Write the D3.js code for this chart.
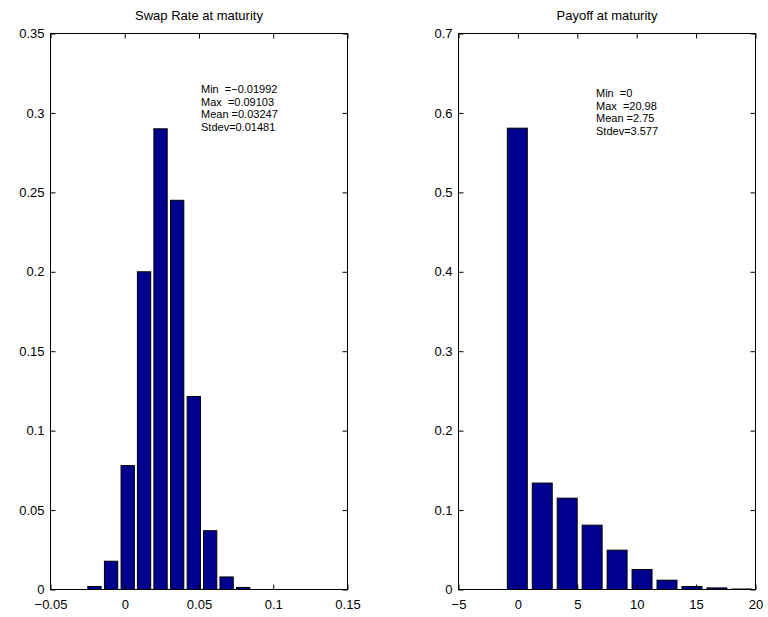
<!DOCTYPE html>
<html>
<head>
<meta charset="utf-8">
<title>Swap rate and payoff histograms</title>
<style>
  body { margin: 0; background: #fff; }
  svg text { font-family: "Liberation Sans", Arial, Helvetica, sans-serif; fill: #000; }
</style>
</head>
<body>
<div id="container"></div>
<script src="https://d3js.org/d3.v7.min.js"></script>
<script>

// histogram of the swap rate at maturity (bin centres and relative frequency)
const swapCenters = [-0.0204, -0.0092, 0.0020, 0.0130, 0.0241, 0.0353, 0.0465, 0.0575, 0.0686, 0.0797];
const swapFreq    = [0.0019, 0.0178, 0.078, 0.200, 0.290, 0.245, 0.1215, 0.037, 0.0079, 0.0013];
const swapStats   = ["Min  =\u22120.01992", "Max  =0.09103", "Mean =0.03247", "Stdev=0.01481"];
const swapXTicks  = [-0.05, 0, 0.05, 0.1, 0.15];
const swapYTicks  = [0, 0.05, 0.1, 0.15, 0.2, 0.25, 0.3, 0.35];

// histogram of the payoff at maturity
const payCenters = [-0.05, 2.05, 4.15, 6.25, 8.35, 10.45, 12.55, 14.65, 16.75, 18.85];
const payFreq    = [0.5808, 0.134, 0.115, 0.081, 0.0495, 0.0252, 0.0117, 0.0038, 0.002, 0.0006];
const payStats   = ["Min  =0", "Max  =20.98", "Mean =2.75", "Stdev=3.577"];
const payXTicks  = [-5, 0, 5, 10, 15, 20];
const payYTicks  = [0, 0.1, 0.2, 0.3, 0.4, 0.5, 0.6, 0.7];

const width = 768;
const height = 617;
const barColor = "#00008f";

const svg = d3.select("#container")
  .append("svg")
  .attr("width", width)
  .attr("height", height);

const fmt = v => (v < 0 ? "\u2212" : "") + String(Math.abs(v));

function drawPanel(opts) {
  const { left, right, top, bottom, xDomain, yDomain, xTicks, yTicks,
          centers, freq, stats, title, statsX, statsY } = opts;

  const x = d3.scaleLinear().domain(xDomain).range([left, right]);
  const y = d3.scaleLinear().domain(yDomain).range([bottom, top]);
  const g = svg.append("g");

  // bars
  const step = Math.abs(x(centers[1]) - x(centers[0]));
  const bw = step * 0.8;
  g.selectAll("rect.bar")
    .data(centers)
    .join("rect")
      .attr("class", "bar")
      .attr("x", (d) => x(d) - bw / 2)
      .attr("y", (d, i) => y(freq[i]))
      .attr("width", bw)
      .attr("height", (d, i) => y(0) - y(freq[i]))
      .attr("fill", barColor)
      .attr("stroke", "#000")
      .attr("stroke-width", 1);

  // axes, ticks point inward like matlab
  const styleAxis = sel => {
    sel.select(".domain").remove();
    sel.selectAll(".tick line").attr("stroke", "#000");
    sel.selectAll(".tick text")
      .style("font-size", "13px")
      .style("font-family", "'Liberation Sans', Arial, sans-serif")
      .attr("fill", "#000");
  };

  g.append("g")
    .attr("transform", `translate(0,${bottom})`)
    .call(d3.axisBottom(x).tickValues(xTicks).tickFormat(fmt).tickSizeInner(-5).tickSizeOuter(0).tickPadding(10))
    .call(styleAxis);
  g.append("g")
    .attr("transform", `translate(0,${top})`)
    .call(d3.axisTop(x).tickValues(xTicks).tickFormat("").tickSizeInner(-5).tickSizeOuter(0))
    .call(styleAxis);
  g.append("g")
    .attr("transform", `translate(${left},0)`)
    .call(d3.axisLeft(y).tickValues(yTicks).tickFormat(fmt).tickSizeInner(-5).tickSizeOuter(0).tickPadding(6))
    .call(styleAxis);
  g.append("g")
    .attr("transform", `translate(${right},0)`)
    .call(d3.axisRight(y).tickValues(yTicks).tickFormat("").tickSizeInner(-5).tickSizeOuter(0))
    .call(styleAxis);

  // box
  g.append("rect")
    .attr("x", left)
    .attr("y", top)
    .attr("width", right - left)
    .attr("height", bottom - top)
    .attr("fill", "none")
    .attr("stroke", "#000")
    .attr("stroke-width", 1);

  g.append("text")
    .attr("x", (left + right) / 2)
    .attr("y", top - 14)
    .attr("text-anchor", "middle")
    .style("font-size", "13px")
    .text(title);

  g.append("g")
    .selectAll("text")
    .data(stats)
    .join("text")
      .attr("x", statsX)
      .attr("y", (d, i) => statsY + i * 12.5)
      .style("font-size", "11px")
      .style("white-space", "pre")
      .attr("xml:space", "preserve")
      .text(d => d);
}

drawPanel({
  left: 50.5, right: 347.5, top: 33.5, bottom: 589.5,
  xDomain: [-0.05, 0.15], yDomain: [0, 0.35],
  xTicks: swapXTicks, yTicks: swapYTicks,
  centers: swapCenters, freq: swapFreq, stats: swapStats,
  title: "Swap Rate at maturity", statsX: 201, statsY: 93
});

drawPanel({
  left: 458.5, right: 755.5, top: 33.5, bottom: 589.5,
  xDomain: [-5, 20], yDomain: [0, 0.7],
  xTicks: payXTicks, yTicks: payYTicks,
  centers: payCenters, freq: payFreq, stats: payStats,
  title: "Payoff at maturity", statsX: 596, statsY: 97
});

</script>
</body>
</html>
